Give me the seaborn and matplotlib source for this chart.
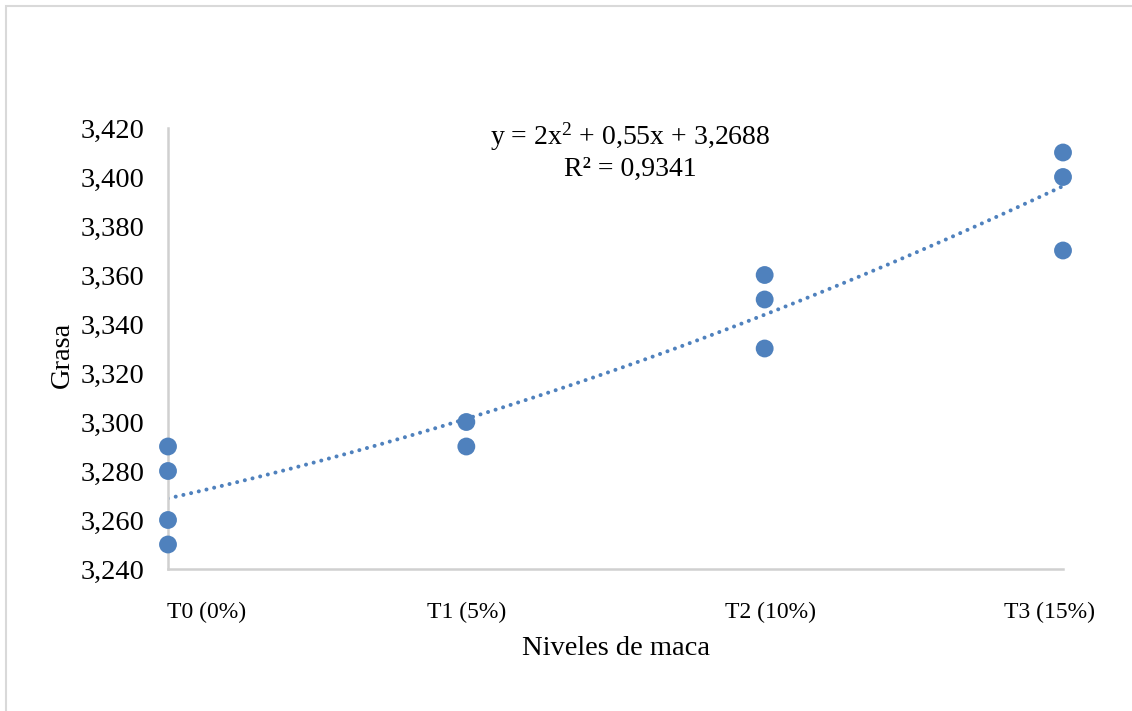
import matplotlib
matplotlib.use("Agg")
import matplotlib.pyplot as plt
import matplotlib.transforms as mtransforms
import seaborn as sns
import numpy as np
import pandas as pd
from matplotlib.ticker import FuncFormatter, FixedLocator
from matplotlib.patches import Rectangle

# ---- data ----
levels = [0.00, 0.00, 0.00, 0.00, 0.05, 0.05, 0.10, 0.10, 0.10, 0.15, 0.15, 0.15]
grasa = [3.29, 3.28, 3.26, 3.25, 3.30, 3.29, 3.36, 3.35, 3.33, 3.41, 3.40, 3.37]
tick_pos = [0.00, 0.05, 0.10, 0.15]
tick_labels = ["T0 (0%)", "T1 (5%)", "T2 (10%)", "T3 (15%)"]
y_ticks = [3.24, 3.26, 3.28, 3.30, 3.32, 3.34, 3.36, 3.38, 3.40, 3.42]
trend_coef = [2.0, 0.55, 3.2688]   # y = a x^2 + b x + c
eq_text = "y = 2x$^{2}$ + 0,55x + 3,2688"
r2_text = "R² = 0,9341"

df = pd.DataFrame({"nivel": levels, "grasa": grasa})

sns.set_theme(style="white")
plt.rcParams["font.family"] = ["Liberation Serif", "DejaVu Serif"]
plt.rcParams["mathtext.fontset"] = "custom"
plt.rcParams["mathtext.rm"] = "Liberation Serif"
plt.rcParams["mathtext.it"] = "Liberation Serif"
plt.rcParams["mathtext.default"] = "regular"

fig = plt.figure(figsize=(11.32, 7.11), dpi=100)
ax = fig.add_axes([168/1132, 1-569/711, (1063-168)/1132, (569-128)/711])

blue = "#4F81BD"
sns.scatterplot(data=df, x="nivel", y="grasa", ax=ax, color=blue, s=165,
                edgecolor="none", zorder=3, clip_on=False)

xs = np.linspace(0, 0.15, 300)
ys = np.polyval(trend_coef, xs)
ax.plot(xs, ys, color=blue, lw=2.9, linestyle=(0, (0.01, 1.95)),
        dash_capstyle="round", zorder=2)

ax.set_xlim(0, 0.15)
ax.set_ylim(3.24, 3.42)
ax.xaxis.set_major_locator(FixedLocator(tick_pos))
ax.set_xticklabels(tick_labels)
ax.yaxis.set_major_locator(FixedLocator(y_ticks))
ax.yaxis.set_major_formatter(FuncFormatter(lambda v, p: f"{v:.3f}".replace(".", ",")))

ax.tick_params(axis="y", length=0, pad=17, labelsize=20.5, labelcolor="black")
ax.tick_params(axis="x", length=0, pad=24, labelsize=17, labelcolor="black")

# horizontal shifts of category labels as in the reference (pixels)
shifts = [39, 0, 6, -13]
for lab, dx in zip(ax.get_xticklabels(), shifts):
    lab.set_transform(lab.get_transform() +
                      mtransforms.ScaledTranslation(dx/100, 0, fig.dpi_scale_trans))

for s in ["top", "right"]:
    ax.spines[s].set_visible(False)
for s in ["left", "bottom"]:
    ax.spines[s].set_color("#D0D0D0")
    ax.spines[s].set_linewidth(1.8)

ax.set_xlabel("Niveles de maca", fontsize=20.5, color="black", labelpad=9)
ax.set_ylabel("Grasa", fontsize=20.5, color="black")
ax.yaxis.set_label_coords(-0.104, 0.485)

ax.text(0.5163, 0.98, eq_text, transform=ax.transAxes, ha="center", va="center",
        fontsize=20, color="black")
ax.text(0.5163, 0.905, r2_text, transform=ax.transAxes, ha="center", va="center",
        fontsize=20, color="black")

# outer chart border
fig.patches.append(Rectangle((6/1132, -0.05), 1.2, (711-6)/711 + 0.05,
                             transform=fig.transFigure, fill=False,
                             edgecolor="#D9D9D9", lw=1.5, zorder=0))

fig.savefig("out.png", dpi=100)
